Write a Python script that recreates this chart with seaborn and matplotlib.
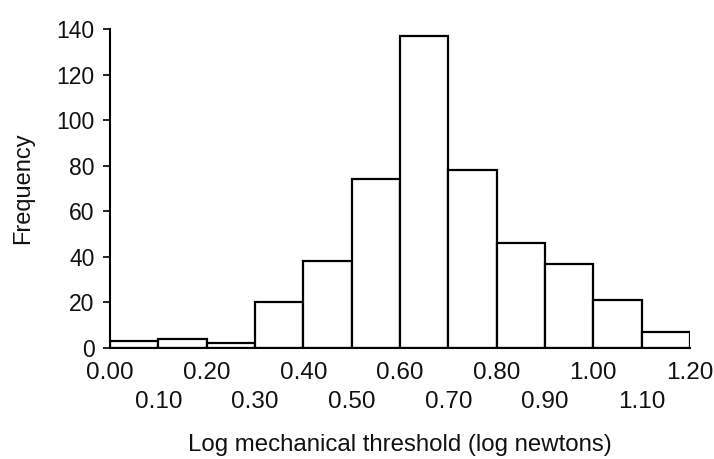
import numpy as np
import pandas as pd
import seaborn as sns
import matplotlib
matplotlib.use("Agg")
import matplotlib.pyplot as plt

# Data
bin_edges = [0.0, 0.1, 0.2, 0.3, 0.4, 0.5, 0.6, 0.7, 0.8, 0.9, 1.0, 1.1, 1.2]
frequencies = [3, 4, 2, 20, 38, 74, 137, 78, 46, 37, 21, 7]
y_ticks = [0, 20, 40, 60, 80, 100, 120, 140]
x_major_labels = ["0.00", "0.20", "0.40", "0.60", "0.80", "1.00", "1.20"]
x_minor_labels = ["0.10", "0.30", "0.50", "0.70", "0.90", "1.10"]

sns.set_theme(style="white")
plt.rcParams["font.family"] = ["Liberation Sans", "DejaVu Sans"]

centers = [(a + b) / 2 for a, b in zip(bin_edges[:-1], bin_edges[1:])]
df = pd.DataFrame({"threshold": centers, "count": frequencies})

fig = plt.figure(figsize=(7.14, 4.59), dpi=100)
ax = fig.add_axes([110 / 714, 111 / 459, 580 / 714, 319 / 459])

sns.histplot(data=df, x="threshold", weights="count", bins=bin_edges,
             color="white", edgecolor="black", linewidth=1.6, alpha=1,
             ax=ax)

ax.set_xlim(0, 1.2)
ax.set_ylim(0, 140)

for s in ["top", "right"]:
    ax.spines[s].set_visible(False)
for s in ["left", "bottom"]:
    ax.spines[s].set_color("black")
    ax.spines[s].set_linewidth(1.5)

ax.set_yticks(y_ticks)
ax.set_yticklabels([str(v) for v in y_ticks], fontsize=16.5, color="#111111")
ax.tick_params(axis="y", which="major", length=5, width=1.2, color="black",
               direction="out", left=True, pad=6)

major_pos = bin_edges[0::2]
minor_pos = bin_edges[1::2]
ax.set_xticks(major_pos)
ax.set_xticklabels(x_major_labels, fontsize=17.5, color="#111111")
ax.set_xticks(minor_pos, minor=True)
ax.set_xticklabels(x_minor_labels, minor=True, fontsize=17.5, color="#111111")
ax.tick_params(axis="x", which="major", length=0, pad=10)
ax.tick_params(axis="x", which="minor", length=0, pad=31, bottom=True)

ax.set_xlabel("Log mechanical threshold (log newtons)", fontsize=17.3,
              color="#111111", labelpad=15)
ax.set_ylabel("Frequency", fontsize=17, color="#111111", labelpad=16)

fig.savefig("out.png", dpi=100, facecolor="white")
